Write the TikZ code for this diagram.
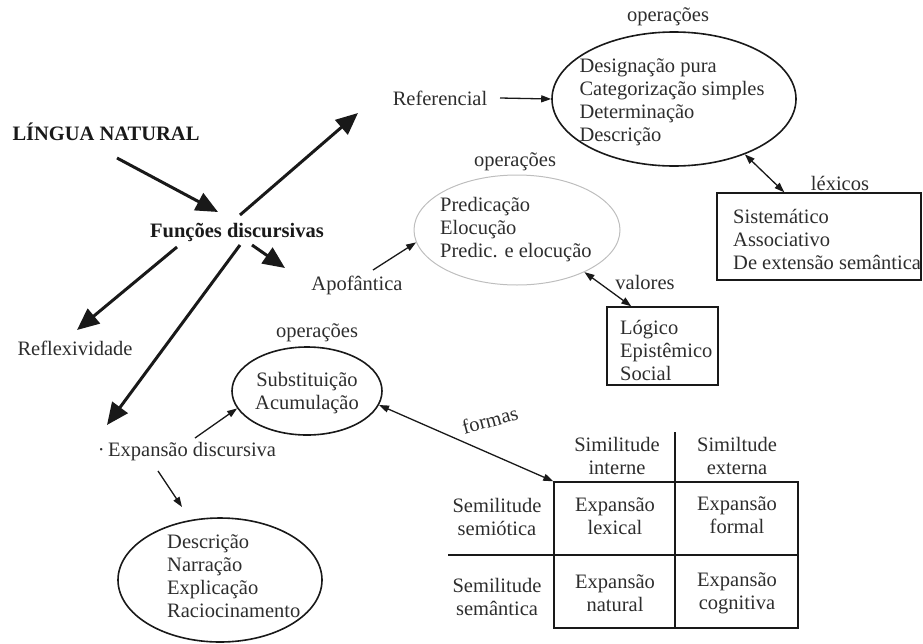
\documentclass[tikz,border=0pt]{standalone}
\usepackage{fontspec}
\setmainfont{Liberation Serif}
\usetikzlibrary{arrows.meta,shapes.geometric}
\definecolor{txtc}{RGB}{45,45,45}
\definecolor{lgray}{RGB}{190,190,190}
\begin{document}
\begin{tikzpicture}[x=1pt,y=-1pt,
  txt/.style={inner sep=0pt, text=txtc, font=\fontsize{20.5}{23}\selectfont},
  bld/.style={inner sep=0pt, text=black!90, font=\fontsize{20.5}{23}\selectfont\bfseries},
  big/.style={line width=3pt, draw=black!90, -{Triangle[length=22pt,width=19pt]}},
  thinarr/.style={line width=1.3pt, draw=black!90, -{Triangle[length=10pt,width=7pt]}},
  dbl/.style={line width=1.3pt, draw=black!90, {Triangle[length=10pt,width=7pt]}-{Triangle[length=10pt,width=7pt]}},
  oval/.style={ellipse, draw=black!90, line width=1.6pt, inner sep=0pt},
  boxs/.style={draw=black!90, line width=1.4pt, inner sep=0pt},
  tline/.style={draw=black!90, line width=1.4pt},
]
\useasboundingbox (0,0) rectangle (923,643);

% main labels
\node[bld] (lingua) at (106,132) {LÍNGUA NATURAL};
\node[bld] (funcoes) at (237,232) {Funções discursivas};
\node[txt] (referencial) at (440,98) {Referencial};
\node[txt] (apof) at (357,285) {Apofântica};
\node[txt] (reflex) at (75,348) {Reflexividade};
\node[txt] (expansao) at (187,452) {·\,Expansão discursiva};

% thick arrows
\coordinate (a1s) at (117,158); \coordinate (a1e) at (218,212);
\coordinate (a2s) at (240,215); \coordinate (a2e) at (358,113);
\coordinate (a3s) at (252,245); \coordinate (a3e) at (285,268);
\coordinate (a4s) at (177,247); \coordinate (a4e) at (77,330);
\coordinate (a5s) at (240,245); \coordinate (a5e) at (107,425);
\draw[big] (a1s) -- (a1e);
\draw[big] (a2s) -- (a2e);
\draw[big] (a3s) -- (a3e);
\draw[big] (a4s) -- (a4e);
\draw[big] (a5s) -- (a5e);

% top ellipse (Referencial)
\node[txt] (op1) at (668,17) {operações};
\node[oval, minimum width=244pt, minimum height=134pt] (e1) at (674,99) {};
\node[txt, align=left] (t1) at (672,102) {Designação pura\\Categorização simples\\Determinação\\Descrição};
\coordinate (refs) at (500,98);
\draw[thinarr] (refs) -- (e1.180);

% léxicos box
\node[txt] (lex) at (840,183) {léxicos};
\node[boxs, minimum width=204pt, minimum height=87pt] (lexbox) at (819,236.5) {};
\node[txt, align=left, anchor=west] (t2) at (733,239) {Sistemático\\Associativo\\De extensão semântica};
\draw[dbl] (e1.-38) -- ([xshift=68pt]lexbox.north west);

% middle ellipse (Apofântica)
\node[txt] (op2) at (515,162) {operações};
\node[ellipse, draw=lgray, line width=1pt, inner sep=0pt, minimum width=206pt, minimum height=110pt] (e2) at (517,230) {};
\node[txt, align=left, anchor=west] (t3) at (440,230) {Predicação\\Elocução\\Predic. e elocução};
\coordinate (apofs) at (373,270);
\draw[thinarr] (apofs) -- (e2.187);

% valores box
\node[txt] (val) at (645,282) {valores};
\node[boxs, minimum width=111pt, minimum height=78pt] (valbox) at (662.5,346) {};
\node[txt, align=left, anchor=west] (t4) at (620,350) {Lógico\\Epistêmico\\Social};
\draw[dbl] (e2.-32) -- ([xshift=25pt]valbox.north west);

% Substituição ellipse
\node[txt] (op3) at (317,333) {operações};
\node[oval, minimum width=150pt, minimum height=88pt] (e3) at (307,391) {};
\node[txt, align=center] (t5) at (307,393) {Substituição\\Acumulação};
\coordinate (exps1) at (195,438);
\draw[thinarr] (exps1) -- (e3.194);

% lower ellipse
\node[oval, minimum width=204pt, minimum height=124pt] (e4) at (220,580) {};
\node[txt, align=left, anchor=west] (t6) at (167,576.5) {Descrição\\Narração\\Explicação\\Raciocinamento};
\coordinate (exps2) at (158,471);
\coordinate (exps2e) at (182,507);
\draw[thinarr] (exps2) -- (exps2e);

% table
\node[boxs, minimum width=244pt, minimum height=146pt] (tbl) at (676,555) {};
\coordinate (vtop) at (675,432); \coordinate (vbot) at (675,628);
\coordinate (hl) at (448,555); \coordinate (hr) at (798,555);
\draw[tline] (vtop) -- (vbot);
\draw[tline] (hl) -- (hr);
\node[txt, align=center] (h1) at (617,456) {Similitude\\interne};
\node[txt, align=center] (h2) at (737,456) {Similtude\\externa};
\node[txt, align=center] (r1) at (497,517) {Semilitude\\semiótica};
\node[txt, align=center] (r2) at (497,597) {Semilitude\\semântica};
\node[txt, align=center] (c11) at (615,516) {Expansão\\lexical};
\node[txt, align=center] (c12) at (737,515) {Expansão\\formal};
\node[txt, align=center] (c21) at (615,593) {Expansão\\natural};
\node[txt, align=center] (c22) at (737,593) {Expansão\\cognitiva};

\draw[dbl] (e3.-11) -- (tbl.north west);
\node[txt, rotate=15] (formas) at (490,420) {formas};
\end{tikzpicture}
\end{document}
